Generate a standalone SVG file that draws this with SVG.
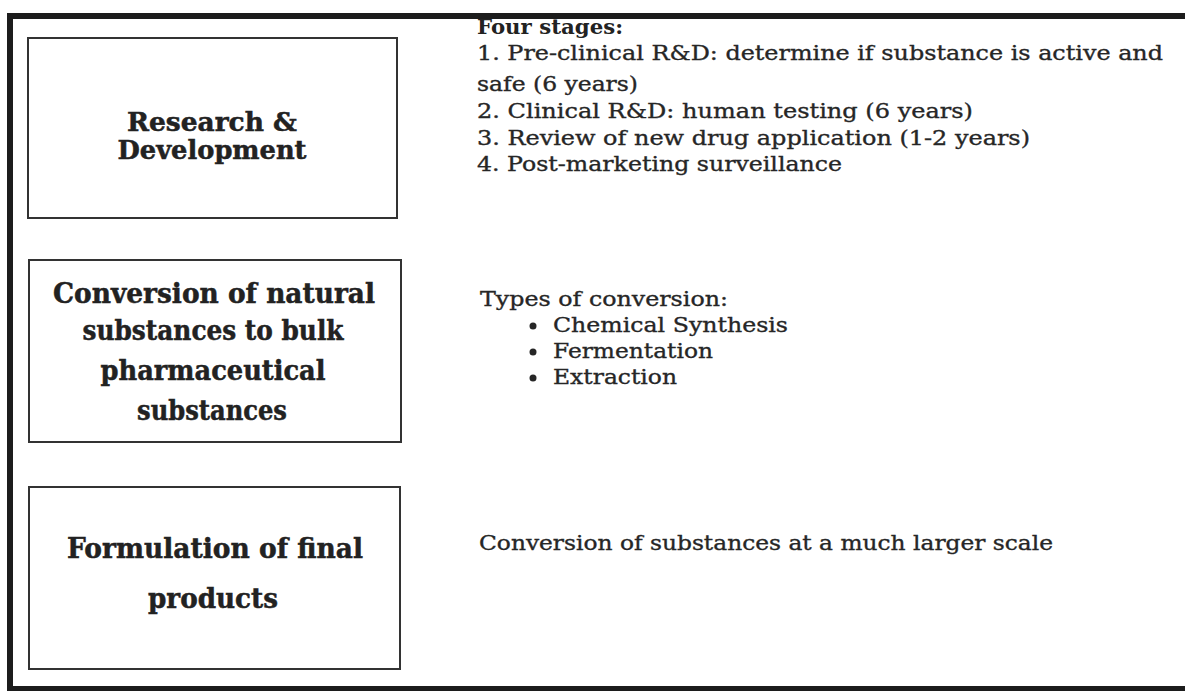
<svg xmlns="http://www.w3.org/2000/svg" width="1185" height="691" viewBox="0 0 1185 691">
<style>
.frame{fill:none;stroke:#1c1c1c;stroke-width:6}
.box{fill:#ffffff;stroke:#333333;stroke-width:2}
.bt{font-family:"DejaVu Serif","Liberation Serif",serif;font-weight:bold;font-size:26px;fill:#222222;stroke:#222222;stroke-width:0.5;text-anchor:middle}
.bt2{font-size:28px}
.dt{font-family:"DejaVu Serif","Liberation Serif",serif;font-size:20.5px;fill:#262626;stroke:#262626;stroke-width:0.35}
.dh{font-family:"DejaVu Serif","Liberation Serif",serif;font-size:20.5px;font-weight:bold;fill:#222222}
.dot{fill:#262626}
</style>
<rect x="0" y="0" width="1185" height="691" fill="#ffffff"/>
<path class="frame" d="M1185,16 H10 V689 H1185"/>
<g id="connectors"></g>
<g id="node-rd">
<rect class="box" x="28" y="38" width="369" height="180"/>
<text class="bt" x="212" y="131" textLength="170" lengthAdjust="spacingAndGlyphs">Research &amp;</text>
<text class="bt" x="212" y="159" textLength="189" lengthAdjust="spacingAndGlyphs">Development</text>
</g>
<g id="node-conversion">
<rect class="box" x="29" y="260" width="372" height="182"/>
<text class="bt bt2" x="214" y="303" textLength="322" lengthAdjust="spacingAndGlyphs">Conversion of natural</text>
<text class="bt bt2" x="213" y="340" textLength="261" lengthAdjust="spacingAndGlyphs">substances to bulk</text>
<text class="bt bt2" x="213" y="380" textLength="225" lengthAdjust="spacingAndGlyphs">pharmaceutical</text>
<text class="bt bt2" x="212" y="420" textLength="150" lengthAdjust="spacingAndGlyphs">substances</text>
</g>
<g id="node-formulation">
<rect class="box" x="29" y="487" width="371" height="182"/>
<text class="bt bt2" x="215" y="558" textLength="296" lengthAdjust="spacingAndGlyphs">Formulation of final</text>
<text class="bt bt2" x="213" y="608" textLength="130" lengthAdjust="spacingAndGlyphs">products</text>
</g>
<g id="desc-rd">
<text class="dh" x="477" y="34" textLength="146" lengthAdjust="spacingAndGlyphs">Four stages:</text>
<text class="dt" x="477" y="60" textLength="686" lengthAdjust="spacingAndGlyphs">1. Pre-clinical R&amp;D: determine if substance is active and</text>
<text class="dt" x="477" y="91" textLength="161" lengthAdjust="spacingAndGlyphs">safe (6 years)</text>
<text class="dt" x="477" y="118" textLength="496" lengthAdjust="spacingAndGlyphs">2. Clinical R&amp;D: human testing (6 years)</text>
<text class="dt" x="477" y="145" textLength="553" lengthAdjust="spacingAndGlyphs">3. Review of new drug application (1-2 years)</text>
<text class="dt" x="477" y="171" textLength="365" lengthAdjust="spacingAndGlyphs">4. Post-marketing surveillance</text>
</g>
<g id="desc-conversion">
<text class="dt" x="480" y="306" textLength="248" lengthAdjust="spacingAndGlyphs">Types of conversion:</text>
<circle class="dot" cx="533" cy="326" r="3.5"/>
<text class="dt" x="553" y="332" textLength="235" lengthAdjust="spacingAndGlyphs">Chemical Synthesis</text>
<circle class="dot" cx="533" cy="352" r="3.5"/>
<text class="dt" x="553" y="358" textLength="160" lengthAdjust="spacingAndGlyphs">Fermentation</text>
<circle class="dot" cx="533" cy="378" r="3.5"/>
<text class="dt" x="553" y="384" textLength="124" lengthAdjust="spacingAndGlyphs">Extraction</text>
</g>
<g id="desc-formulation">
<text class="dt" x="479" y="550" textLength="574" lengthAdjust="spacingAndGlyphs">Conversion of substances at a much larger scale</text>
</g>
</svg>
